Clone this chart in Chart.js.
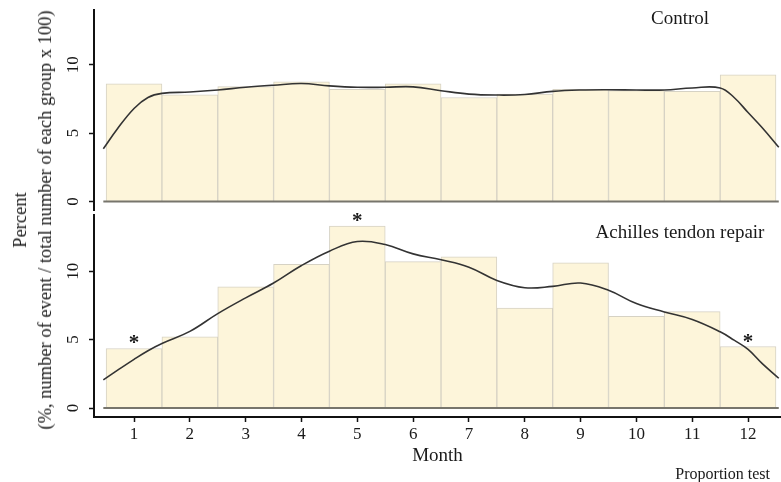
<!DOCTYPE html>
<html>
<head>
<meta charset="utf-8">
<script src="https://cdn.jsdelivr.net/npm/chart.js@4.4.1/dist/chart.umd.min.js"></script>
<style>
  html, body { margin: 0; padding: 0; background: #fff; }
  #wrap { position: relative; width: 781px; height: 482px; overflow: hidden; }
  canvas { position: absolute; left: 0; }
  #ytitle {
    position: absolute; left: 33px; top: 220px;
    transform: translate(-50%, -50%) rotate(-90deg);
    white-space: nowrap; text-align: center;
    font-family: "Liberation Serif", serif; font-size: 18.5px; line-height: 25px; color: #1a1a1a;
  }
</style>
</head>
<body>
<div id="wrap">
  <canvas id="topChart" width="781" height="211" style="top:0"></canvas>
  <canvas id="botChart" width="781" height="271" style="top:211px"></canvas>
  <div id="ytitle">Percent<br>(%, number of event / total number of each group x 100)</div>
</div>
<script>
  // Monthly share of events (% of each group)
  const months = [1, 2, 3, 4, 5, 6, 7, 8, 9, 10, 11, 12];
  const controlPct = [8.6, 7.8, 8.4, 8.75, 8.2, 8.6, 7.6, 7.85, 8.2, 8.1, 8.05, 9.25];
  const achillesPct = [4.35, 5.2, 8.85, 10.5, 13.3, 10.7, 11.05, 7.3, 10.6, 6.7, 7.05, 4.5];

  // Smoothed density curves
  const curveMonths = [0.45, 0.7, 1, 1.25, 1.5, 2, 2.5, 3, 3.5, 4, 4.5, 5, 5.5, 6, 6.5, 7, 7.5, 8, 8.5, 9, 9.5, 10, 10.5, 11, 11.5, 11.75, 12, 12.25, 12.55];
  const controlCurve = [3.85, 5.3, 6.8, 7.6, 7.9, 8.0, 8.15, 8.35, 8.5, 8.62, 8.45, 8.35, 8.35, 8.38, 8.1, 7.85, 7.78, 7.82, 8.05, 8.15, 8.17, 8.15, 8.15, 8.3, 8.3, 7.6, 6.5, 5.4, 3.96];
  const achillesCurve = [2.06, 2.75, 3.56, 4.19, 4.72, 5.6, 6.9, 8.05, 9.13, 10.41, 11.46, 12.16, 11.94, 11.26, 10.83, 10.29, 9.32, 8.79, 8.89, 9.13, 8.6, 7.63, 7.02, 6.47, 5.57, 4.96, 4.29, 3.27, 2.18];

  // Significant months (proportion test) and the height of their asterisks
  const starMonths = [1, 5, 12];
  const starLevels = [5.05, 13.95, 5.15];

  const yTicks = [0, 5, 10];
  const serif = '"Liberation Serif", "Times New Roman", serif';
  const barFill = '#fdf5da';
  const barEdge = '#d6d2c4';
  const curveColor = '#333333';

  // draws the zero baseline, rotated y tick labels, panel label and asterisks
  const panelDecor = {
    id: 'panelDecor',
    afterDatasetsDraw(chart, args, opts) {
      const { ctx } = chart;
      const x = chart.scales.x, y = chart.scales.y;
      ctx.save();
      ctx.strokeStyle = '#77756c';
      ctx.lineWidth = 2;
      ctx.beginPath();
      ctx.moveTo(x.getPixelForValue(curveMonths[0]), y.getPixelForValue(0));
      ctx.lineTo(x.getPixelForValue(curveMonths[curveMonths.length - 1]), y.getPixelForValue(0));
      ctx.stroke();

      ctx.fillStyle = '#1a1a1a';
      ctx.font = '17px ' + serif;
      ctx.textAlign = 'center';
      ctx.textBaseline = 'middle';
      yTicks.forEach(v => {
        ctx.save();
        ctx.translate(74, y.getPixelForValue(v));
        ctx.rotate(-Math.PI / 2);
        ctx.fillText(String(v), 0, 0);
        ctx.restore();
      });

      ctx.font = '19px ' + serif;
      ctx.fillText(opts.label, opts.labelX, opts.labelY);

      if (opts.stars) {
        ctx.font = 'bold 21px ' + serif;
        ctx.textBaseline = 'alphabetic';
        starMonths.forEach((m, i) => {
          ctx.fillText('*', x.getPixelForValue(m), y.getPixelForValue(starLevels[i]) + 10);
        });
      }
      if (opts.note) {
        ctx.font = '16px ' + serif;
        ctx.textAlign = 'right';
        ctx.textBaseline = 'middle';
        ctx.fillText(opts.note, 770, 264);
      }
      ctx.restore();
    }
  };

  function makeData(pct, curve) {
    return {
      datasets: [
        {
          type: 'line',
          data: curveMonths.map((m, i) => ({ x: m, y: curve[i] })),
          borderColor: curveColor,
          borderWidth: 1.6,
          pointRadius: 0,
          tension: 0.4,
          fill: false
        },
        {
          type: 'bar',
          data: months.map((m, i) => ({ x: m, y: pct[i] })),
          backgroundColor: barFill,
          borderColor: barEdge,
          borderWidth: 1,
          barPercentage: 1,
          categoryPercentage: 1
        }
      ]
    };
  }

  function yScale(min, max) {
    return {
      min: min,
      max: max,
      ticks: { display: false, stepSize: 5, includeBounds: false },
      grid: { drawOnChartArea: false, tickLength: 5, tickColor: '#111', tickWidth: 1.5 },
      border: { color: '#111', width: 2 },
      afterFit(s) { s.width = 94; }
    };
  }

  const xMin = 0.283, xMax = 12.59;

  new Chart(document.getElementById('topChart'), {
    data: makeData(controlPct, controlCurve),
    plugins: [panelDecor],
    options: {
      responsive: false,
      animation: false,
      layout: { padding: { top: 10, right: 0, bottom: 0, left: 0 } },
      plugins: {
        legend: { display: false },
        tooltip: { enabled: false },
        panelDecor: { label: 'Control', labelX: 680, labelY: 19 }
      },
      scales: {
        x: { type: 'linear', display: false, offset: false, min: xMin, max: xMax, ticks: { stepSize: 1, includeBounds: false }, grid: { offset: false } },
        y: yScale(-0.7, 14)
      }
    }
  });

  new Chart(document.getElementById('botChart'), {
    data: makeData(achillesPct, achillesCurve),
    plugins: [panelDecor],
    options: {
      responsive: false,
      animation: false,
      layout: { padding: { top: 4, right: 0, bottom: 0, left: 0 } },
      plugins: {
        legend: { display: false },
        tooltip: { enabled: false },
        panelDecor: { label: 'Achilles tendon repair', labelX: 680, labelY: 22, stars: true, note: 'Proportion test' }
      },
      scales: {
        x: {
          type: 'linear',
          offset: false,
          min: xMin,
          max: xMax,
          ticks: { stepSize: 1, includeBounds: false, autoSkip: false, maxRotation: 0, padding: 2, color: '#1a1a1a', font: { family: serif, size: 17 } },
          grid: { offset: false, drawOnChartArea: false, tickLength: 5, tickColor: '#111', tickWidth: 1.5 },
          border: { color: '#111', width: 2 },
          title: { display: true, text: 'Month', color: '#1a1a1a', font: { family: serif, size: 19 }, padding: { top: 0, bottom: 15 } },
          afterFit(s) { s.height = 65; }
        },
        y: yScale(-0.65, 14.1)
      }
    }
  });
</script>
</body>
</html>
